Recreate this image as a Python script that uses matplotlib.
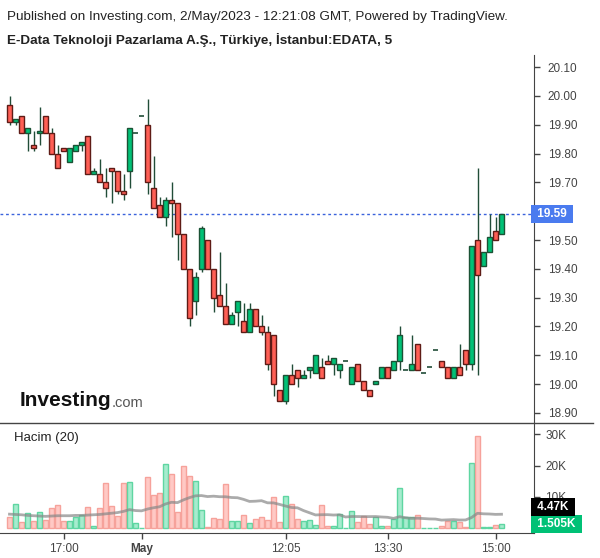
import matplotlib.pyplot as plt
import numpy as np

plt.rcParams['font.family'] = ['Liberation Sans', 'DejaVu Sans']

# 5 minute bars, EDATA
opens = [19.97, 19.91, 19.93, 19.87, 19.83, 19.87, 19.93, 19.87, 19.80, 19.82,
         19.77, 19.81, 19.83, 19.86, 19.73, 19.73, 19.70, 19.75, 19.74, 19.67,
         19.74, 19.87, 19.93, 19.90, 19.68, 19.62, 19.58, 19.64, 19.63, 19.52,
         19.40, 19.29, 19.40, 19.50, 19.40, 19.31, 19.27, 19.21, 19.25, 19.22,
         19.18, 19.26, 19.20, 19.18, 19.17, 18.98, 18.94, 19.03, 19.05, 19.02,
         19.05, 19.04, 19.06, 19.08, 19.07, 19.05, 19.08, 19.00, 19.07, 19.01,
         18.98, 19.00, 19.02, 19.06, 19.05, 19.08, 19.05, 19.05, 19.14, 19.04,
         19.06, 19.12, 19.08, 19.06, 19.02, 19.06, 19.12, 19.07, 19.50, 19.41,
         19.46, 19.53, 19.52]
highs = [20.00, 19.92, 19.93, 19.89, 19.88, 19.96, 19.93, 19.89, 19.83, 19.82,
         19.82, 19.83, 19.84, 19.86, 19.75, 19.78, 19.75, 19.75, 19.74, 19.73,
         19.89, 19.87, 19.93, 19.99, 19.79, 19.65, 19.65, 19.70, 19.63, 19.52,
         19.40, 19.39, 19.55, 19.50, 19.40, 19.46, 19.35, 19.25, 19.29, 19.28,
         19.28, 19.26, 19.24, 19.20, 19.17, 18.98, 19.03, 19.07, 19.05, 19.05,
         19.06, 19.10, 19.09, 19.10, 19.09, 19.07, 19.08, 19.06, 19.07, 19.01,
         18.98, 19.01, 19.06, 19.06, 19.08, 19.20, 19.05, 19.17, 19.14, 19.04,
         19.06, 19.12, 19.08, 19.06, 19.06, 19.14, 19.12, 19.48, 19.75, 19.46,
         19.59, 19.58, 19.59]
lows = [19.90, 19.90, 19.87, 19.81, 19.81, 19.83, 19.87, 19.80, 19.75, 19.81,
        19.77, 19.81, 19.81, 19.73, 19.73, 19.70, 19.65, 19.63, 19.66, 19.64,
        19.68, 19.87, 19.93, 19.66, 19.61, 19.58, 19.55, 19.51, 19.43, 19.40,
        19.20, 19.24, 19.39, 19.40, 19.25, 19.27, 19.21, 19.21, 19.20, 19.18,
        19.18, 19.20, 19.17, 19.05, 18.96, 18.94, 18.93, 19.00, 18.99, 19.02,
        19.02, 19.04, 19.02, 19.07, 19.03, 19.02, 19.08, 19.00, 19.01, 18.98,
        18.96, 19.00, 19.02, 19.02, 19.05, 19.05, 19.05, 19.05, 19.05, 19.04,
        19.06, 19.12, 19.06, 19.02, 19.02, 19.03, 19.05, 19.05, 19.03, 19.41,
        19.46, 19.50, 19.52]
closes = [19.91, 19.92, 19.87, 19.89, 19.82, 19.88, 19.87, 19.80, 19.75, 19.81,
          19.82, 19.83, 19.84, 19.73, 19.74, 19.70, 19.68, 19.74, 19.67, 19.66,
          19.89, 19.87, 19.93, 19.70, 19.61, 19.58, 19.64, 19.63, 19.52, 19.40,
          19.23, 19.37, 19.54, 19.40, 19.30, 19.27, 19.21, 19.24, 19.29, 19.18,
          19.26, 19.20, 19.18, 19.07, 19.00, 18.94, 19.03, 19.00, 19.02, 19.03,
          19.06, 19.10, 19.02, 19.07, 19.09, 19.07, 19.08, 19.06, 19.01, 18.98,
          18.96, 19.01, 19.06, 19.02, 19.08, 19.17, 19.05, 19.07, 19.05, 19.04,
          19.06, 19.12, 19.06, 19.02, 19.06, 19.03, 19.07, 19.48, 19.38, 19.46,
          19.51, 19.50, 19.59]
# volume in thousands
volumes = [3.5, 7.7, 2.0, 4.8, 2.3, 5.1, 2.7, 6.4, 7.3, 2.3,
           2.3, 3.5, 4.2, 6.7, 0.7, 6.4, 14.5, 7.0, 3.8, 14.5,
           14.8, 1.6, 0.2, 16.3, 10.5, 11.4, 20.5, 17.2, 5.1, 19.9,
           16.6, 15.0, 5.8, 0.3, 3.2, 3.0, 14.2, 2.3, 2.3, 4.2,
           1.6, 3.0, 3.5, 2.7, 9.9, 2.0, 10.2, 7.7, 2.9, 2.4,
           2.7, 1.0, 7.4, 0.7, 0.7, 4.6, 0.1, 5.5, 2.0, 3.9,
           1.4, 3.5, 0.7, 0.7, 3.0, 12.8, 3.5, 3.5, 4.2, 0.2,
           0.2, 0.2, 0.7, 2.3, 2.3, 2.0, 0.3, 20.9, 29.3, 0.5,
           0.3, 1.0, 1.505]
# volume MA(20) before 20 bars exist on screen
ma_head = [4.5, 4.4, 4.3, 4.1, 4.0, 3.9, 3.8, 3.9, 4.0, 4.0,
           4.0, 4.1, 4.1, 4.2, 4.3, 4.4, 4.6, 4.8, 5.0]

tick_pos = [9, 22, 46, 63, 81]
tick_labels = ['17:00', 'May', '12:05', '13:30', '15:00']
price_ticks = [18.90, 19.00, 19.10, 19.20, 19.30, 19.40, 19.50, 19.60, 19.70, 19.80, 19.90, 20.00, 20.10]
vol_ticks = [10, 20, 30]

o = np.array(opens)
h = np.array(highs)
l = np.array(lows)
c = np.array(closes)
v = np.array(volumes)
x = np.arange(len(o))
up = c >= o
doji = (o == c) & (h == l)

vol_ma = np.convolve(v, np.ones(20) / 20, mode='valid')
vol_ma = np.concatenate([ma_head, vol_ma])

fig = plt.figure(figsize=(6, 5.58), dpi=100)
W, H = 600, 558
def box(l_, t_, r_, b_):
    return [l_ / W, 1 - b_ / H, (r_ - l_) / W, (b_ - t_) / H]

ax = fig.add_axes(box(0, 55, 534, 423))
axv = fig.add_axes(box(0, 423, 534, 533.3))

xlim = ((0 - 9.5) / 6, (534 - 9.5) / 6)

GREEN = '#00c176'
RED = '#ff5f55'
WICK = '#214d38'
GREEN_EDGE = '#1b5235'
RED_EDGE = '#5e1b16'
AXC = '#444444'

# wicks
nd = ~doji
ax.vlines(x[nd], l[nd], h[nd], color=WICK, lw=1, zorder=2)
# bodies
bottoms = np.minimum(o, c)
heights = np.maximum(np.abs(c - o), 0.004)
ax.bar(x[nd & up], heights[nd & up], bottom=bottoms[nd & up], width=0.7,
       color=GREEN, edgecolor=GREEN_EDGE, lw=1, zorder=3)
ax.bar(x[nd & ~up], heights[nd & ~up], bottom=bottoms[nd & ~up], width=0.7,
       color=RED, edgecolor=RED_EDGE, lw=1, zorder=3)
ax.hlines(c[doji], x[doji] - 0.4, x[doji] + 0.4, color=WICK, lw=1.2, zorder=3)

last = c[-1]
ax.axhline(last, color='#3b63dc', lw=1, ls=(0, (2, 2)), zorder=1)

ax.set_xlim(xlim)
ax.set_ylim(18.865, 20.142)
ax.set_xticks([])
ax.yaxis.tick_right()
ax.set_yticks(price_ticks)
ax.set_yticklabels(['' if abs(t - last) < 0.03 else '%.2f' % t for t in price_ticks])
ax.tick_params(axis='y', direction='out', length=4, width=1, color=AXC,
               labelcolor=AXC, labelsize=8.5, pad=6)
for s in ['top', 'left', 'bottom']:
    ax.spines[s].set_visible(False)
ax.spines['right'].set_color(AXC)

ax.text(1.0, last, ' %.2f ' % last, transform=ax.get_yaxis_transform(),
        ha='left', va='center', color='white', fontsize=8.5, fontweight='bold',
        bbox=dict(boxstyle='square,pad=0.25', fc='#4a7bef', ec='none'))

# Investing.com logo
logo = fig.text(20 / W, 1 - 401 / H, 'Investing', fontsize=15, fontweight='bold',
                color='#111', ha='left', va='center')
fig.text(112 / W, 1 - 403 / H, '.com', fontsize=10.5, color='#555', ha='left', va='center')

# volume pane
vcol = np.where(up, '#a6ecce', '#ffc9c5')
vedge = np.where(up, '#5fd6a2', '#f6a29b')
axv.bar(x, v, width=0.88, color=vcol, edgecolor=vedge, lw=1, zorder=2)
axv.plot(x, vol_ma, color='#888888', lw=2, alpha=0.7, zorder=3)
axv.set_xlim(xlim)
axv.set_ylim(-1.6, 33.55)
axv.yaxis.tick_right()
axv.set_yticks(vol_ticks)
axv.set_yticklabels(['%dK' % t for t in vol_ticks])
axv.tick_params(axis='y', direction='out', length=4, width=1, color=AXC,
                labelcolor=AXC, labelsize=8.5, pad=4)
axv.set_xticks(tick_pos)
axv.set_xticklabels(tick_labels)
axv.tick_params(axis='x', direction='out', length=4, width=1, color=AXC,
                labelcolor=AXC, labelsize=8.5, pad=3)
for lab in axv.get_xticklabels():
    if lab.get_text() == 'May':
        lab.set_fontweight('bold')
axv.spines['left'].set_visible(False)
axv.spines['top'].set_visible(False)
axv.spines['right'].set_color(AXC)
axv.spines['bottom'].set_color(AXC)
axv.text(14 / 534, 0.86, 'Hacim (20)', transform=axv.transAxes, fontsize=9.5,
         color='#222', ha='left', va='center')

axv.text(1.0, v[-1], ' %.3fK ' % v[-1], transform=axv.get_yaxis_transform(),
         ha='left', va='center', color='white', fontsize=8.5, fontweight='bold',
         bbox=dict(boxstyle='square,pad=0.25', fc=GREEN, ec='none'))
axv.annotate(' %.2fK ' % vol_ma[-1], xy=(1.0, v[-1]), xycoords=axv.get_yaxis_transform(),
             xytext=(0, 12), textcoords='offset points',
             ha='left', va='center', color='white', fontsize=8.5, fontweight='bold',
             bbox=dict(boxstyle='square,pad=0.25', fc='black', ec='none'))

# pane separator
fig.add_artist(plt.Line2D([0, 593 / W], [1 - 423 / H, 1 - 423 / H], color=AXC, lw=1))

fig.text(7 / W, 1 - 17 / H, 'Published on Investing.com, 2/May/2023 - 12:21:08 GMT, Powered by TradingView.',
         fontsize=9.7, color='#222', ha='left', va='center')
fig.text(7 / W, 1 - 40 / H, 'E-Data Teknoloji Pazarlama A.Ş., Türkiye, İstanbul:EDATA, 5',
         fontsize=9.7, fontweight='bold', color='#222', ha='left', va='center')

fig.savefig('out.png', dpi=100, facecolor='white')
